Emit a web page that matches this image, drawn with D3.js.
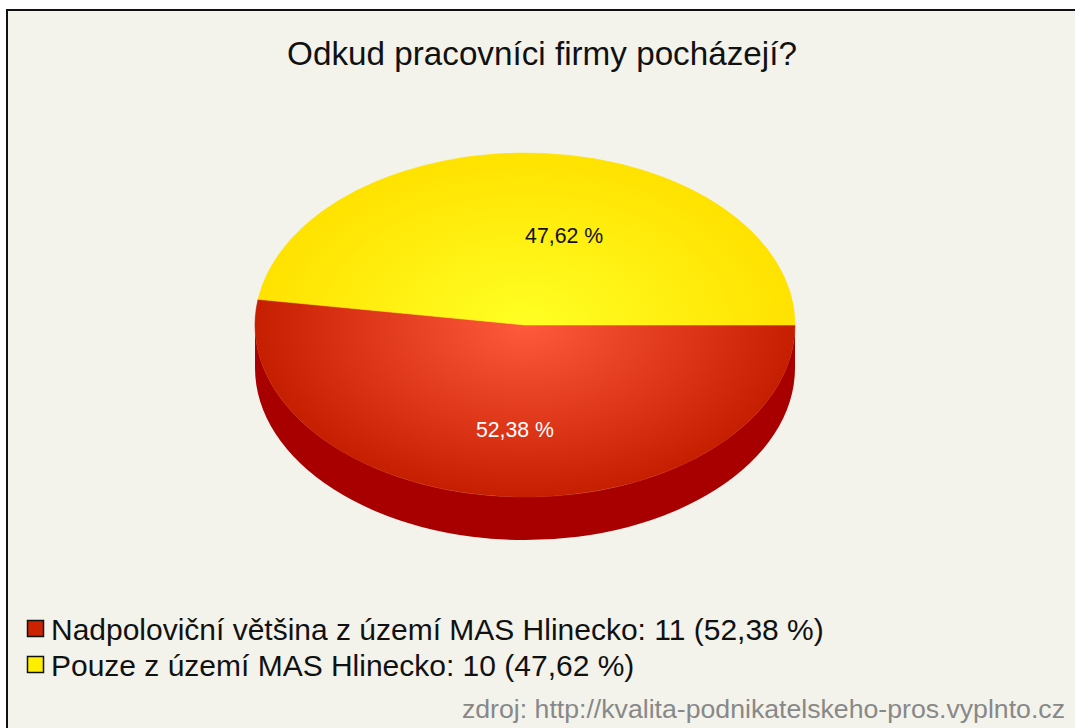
<!DOCTYPE html>
<html><head><meta charset="utf-8">
<script src="https://cdn.jsdelivr.net/npm/d3@7"></script>
<style>
html,body{margin:0;padding:0;background:#fff;}
svg{display:block;}
</style></head>
<body>
<svg id="chart" width="1075" height="728"></svg>
<script>
const title = "Odkud pracovníci firmy pocházejí?";
const categories = ["Nadpoloviční většina z území MAS Hlinecko", "Pouze z území MAS Hlinecko"];
const counts = [11, 10];
const percentLabels = ["52,38 %", "47,62 %"];
const source = "zdroj: http://kvalita-podnikatelskeho-pros.vyplnto.cz";

const topCenter = ["#ff5a3c", "#ffff24"];
const topEdge = ["#c61e00", "#ffe200"];
const sideColor = ["#a80000", "#c8b000"];
const legendColor = ["#cc2200", "#ffee00"];
const labelColor = ["#ffffff", "#111111"];

const svg = d3.select("#chart");
const W = 1075, H = 728;
const FONT = "Liberation Sans, Arial, Helvetica, sans-serif";

// frame
svg.append("rect").attr("x", 0).attr("y", 0).attr("width", W).attr("height", H).attr("fill", "#fff");
svg.append("rect").attr("x", 7).attr("y", 10).attr("width", W + 20).attr("height", H + 20)
  .attr("fill", "#f3f3eb").attr("stroke", "#111").attr("stroke-width", 2);

function fitText(sel, target) {
  const len = sel.node().getComputedTextLength();
  const fs = parseFloat(sel.attr("font-size"));
  sel.attr("font-size", (fs * target / len).toFixed(2));
  return fs * target / len;
}

// title
const t = svg.append("text").attr("x", 542).attr("y", 65).attr("text-anchor", "middle")
  .attr("font-family", FONT).attr("font-size", 26).attr("fill", "#111").text(title);
fitText(t, 510);

// pie geometry
const cx = 525, cy = 325, rx = 270, ry = 172, depth = 43;
const pie = d3.pie().sort(null).startAngle(Math.PI / 2).endAngle(Math.PI / 2 + 2 * Math.PI);
const arcs = pie(counts);

const defs = svg.append("defs");
categories.forEach((c, i) => {
  const g = defs.append("radialGradient").attr("id", "g" + i)
    .attr("gradientUnits", "userSpaceOnUse")
    .attr("cx", cx).attr("cy", cy).attr("r", rx)
    .attr("gradientTransform", `translate(0,${cy}) scale(1,${ry / rx}) translate(0,${-cy})`);
  g.append("stop").attr("offset", "0%").attr("stop-color", topCenter[i]);
  g.append("stop").attr("offset", "100%").attr("stop-color", topEdge[i]);
});

const px = th => cx + rx * Math.cos(th);
const py = (th, dy = 0) => cy + dy + ry * Math.sin(th);

// side walls (visible for screen angles in [0, PI])
arcs.forEach((a, i) => {
  const s = a.startAngle - Math.PI / 2, e = a.endAngle - Math.PI / 2;
  for (let k = -1; k <= 1; k++) {
    const s2 = Math.max(s + 2 * Math.PI * k, 0), e2 = Math.min(e + 2 * Math.PI * k, Math.PI);
    if (e2 > s2) {
      const large = (e2 - s2) > Math.PI ? 1 : 0;
      const d = `M${px(s2)},${py(s2)} A${rx},${ry} 0 ${large} 1 ${px(e2)},${py(e2)}` +
        ` L${px(e2)},${py(e2, depth)} A${rx},${ry} 0 ${large} 0 ${px(s2)},${py(s2, depth)} Z`;
      svg.append("path").attr("d", d).attr("fill", sideColor[i]);
    }
  }
});

// top faces
arcs.forEach((a, i) => {
  const s = a.startAngle - Math.PI / 2, e = a.endAngle - Math.PI / 2;
  const large = (e - s) > Math.PI ? 1 : 0;
  const d = `M${cx},${cy} L${px(s)},${py(s)} A${rx},${ry} 0 ${large} 1 ${px(e)},${py(e)} Z`;
  svg.append("path").attr("d", d).attr("fill", `url(#g${i})`)
    .attr("stroke", `url(#g${i})`).attr("stroke-width", 0.6);
});

// percentage labels
const labelOffset = [[2, 9], [27, 21]];
arcs.forEach((a, i) => {
  const mid = (a.startAngle + a.endAngle) / 2 - Math.PI / 2;
  const lx = cx + rx * 0.6 * Math.cos(mid) + labelOffset[i][0];
  const ly = cy + ry * 0.6 * Math.sin(mid) + labelOffset[i][1];
  const lt = svg.append("text").attr("x", lx).attr("y", ly).attr("text-anchor", "middle")
    .attr("font-family", FONT).attr("font-size", 18)
    .attr("fill", labelColor[i]).text(percentLabels[i]);
  fitText(lt, 78);
});

// legend
let legendSize = null;
categories.forEach((c, i) => {
  const y0 = 620 + i * 36;
  svg.append("rect").attr("x", 27.5).attr("y", y0 + 0.5).attr("width", 16).attr("height", 16)
    .attr("fill", legendColor[i]).attr("stroke", "#111").attr("stroke-width", 1.5);
  const txt = svg.append("text").attr("x", 51).attr("y", y0 + 20)
    .attr("font-family", FONT).attr("font-size", 24).attr("fill", "#111")
    .text(`${c}: ${counts[i]} (${percentLabels[i]})`);
  if (i === 0) legendSize = fitText(txt, 773);
  else txt.attr("font-size", legendSize);
});

// source
const src = svg.append("text").attr("x", 1065).attr("y", 718).attr("text-anchor", "end")
  .attr("font-family", FONT).attr("font-size", 18).attr("fill", "#888").text(source);
fitText(src, 603);
</script>
</body></html>
